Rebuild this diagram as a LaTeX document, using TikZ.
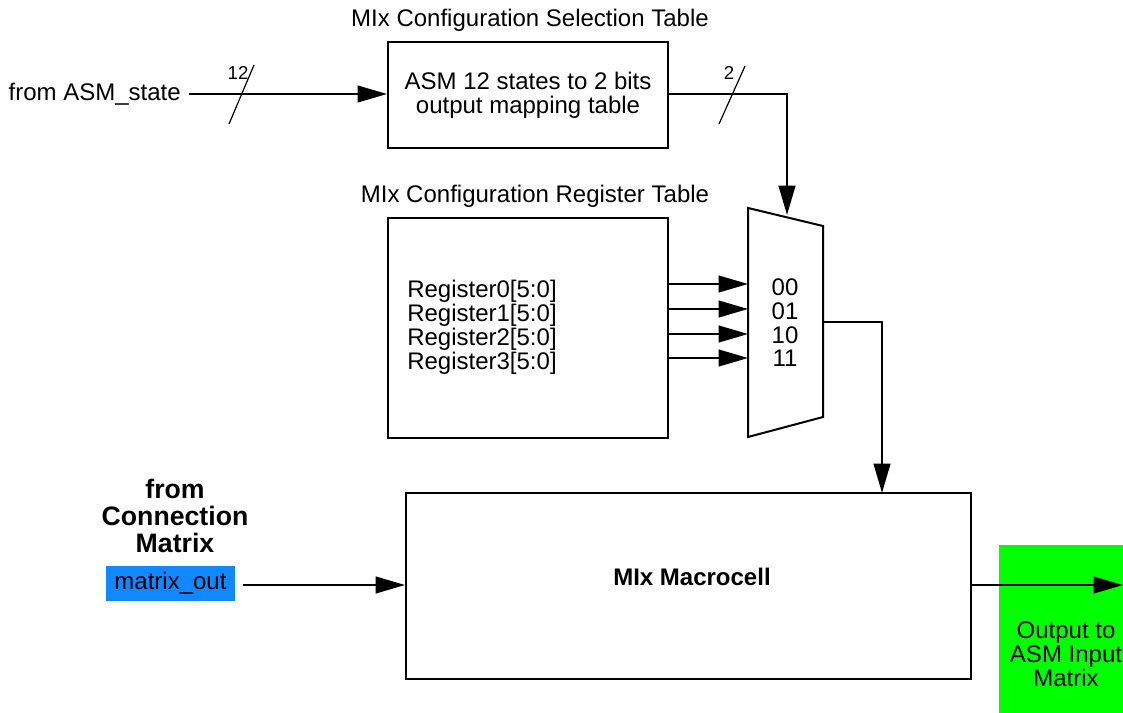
\documentclass[tikz,border=0pt]{standalone}
\usepackage{fontspec}
\setmainfont{Liberation Sans}
\usetikzlibrary{arrows.meta,calc}
\definecolor{bluebox}{RGB}{17,136,255}
\definecolor{greenbox}{RGB}{0,255,0}
\tikzset{
  box/.style={draw,line width=1.5pt,inner sep=0pt},
  wire/.style={line width=1.5pt},
  arr/.style={line width=1.5pt,-{Triangle[length=22pt,width=12.5pt]}},
  slash/.style={line width=0.9pt},
  lbl/.style={font=\fontsize{18}{18}\selectfont,inner sep=0pt},
  small/.style={font=\fontsize{14}{14}\selectfont,inner sep=0pt},
}
\begin{document}
\begin{tikzpicture}[x=0.75pt,y=-0.75pt]
\useasboundingbox (0,0) rectangle (1123,713);
% boxes
\node[box,minimum width=210pt,minimum height=79.5pt,align=center,font=\fontsize{18}{18}\selectfont] (sel) at (528,95.5) {ASM 12 states to 2 bits\\output mapping table};
\node[lbl] (seltitle) at (530,20) {MIx Configuration Selection Table};
\node[box,minimum width=210pt,minimum height=165pt] (reg) at (528,328) {};
\node[lbl] (regtitle) at (535,196) {MIx Configuration Register Table};
\node[lbl,anchor=west] (r0) at (407,291) {Register0[5:0]};
\node[lbl,anchor=west] (r1) at (407,315) {Register1[5:0]};
\node[lbl,anchor=west] (r2) at (407,339) {Register2[5:0]};
\node[lbl,anchor=west] (r3) at (407,363) {Register3[5:0]};
% mux
\coordinate (m1) at (748,208);
\coordinate (m2) at (823,226);
\coordinate (m3) at (823,417);
\coordinate (m4) at (748,437);
\draw[wire,line join=miter] (m1) -- (m2) -- (m3) -- (m4) -- cycle;
\coordinate (muxtop) at (787,215);
\coordinate (in0) at (748,284);
\coordinate (in1) at (748,309);
\coordinate (in2) at (748,334);
\coordinate (in3) at (748,358);
\node[lbl] (s0) at (785,287) {00};
\node[lbl] (s1) at (785,311) {01};
\node[lbl] (s2) at (785,335) {10};
\node[lbl] (s3) at (785,358) {11};
\coordinate (muxout) at (823,322);
% macrocell
\node[box,minimum width=423.75pt,minimum height=139.5pt] (mix) at (688.5,586) {};
\node[font=\bfseries\fontsize{18}{18}\selectfont,inner sep=0pt] (mixlbl) at (692,577) {MIx Macrocell};
\coordinate (mixin) at (882,493);
% left inputs
\node[lbl,anchor=east,inner sep=0pt] (fromasm) at (181,94) {from ASM\_state};
\node[align=center,font=\bfseries\fontsize{20}{20}\selectfont,inner sep=0pt] (fromcm) at (175,516) {from\\Connection\\Matrix};
\node[fill=bluebox,minimum width=96.75pt,minimum height=26.25pt,inner sep=0pt,font=\fontsize{18}{18}\selectfont] (mout) at (170.5,583.5) {\raisebox{-1pt}{matrix\_out}};
% output
\node[fill=greenbox,minimum width=94.5pt,minimum height=126pt,inner sep=0pt] (outbox) at (1062,629) {};
\node[align=center,font=\fontsize{18}{18}\selectfont,inner sep=0pt] (outlbl) at (1066,654) {Output to\\ASM Input\\Matrix};
\coordinate (outend) at (1123,585);
% connectors
\coordinate (asmstart) at (189,94);
\draw[arr] (asmstart) -- (asmstart -| sel.west);
\draw[slash] (229,124) -- (254,65);
\node[small] (w12) at (238,73) {12};
\draw[arr] (sel.east |- 0,94) -| (muxtop);
\draw[slash] (719,124) -- (745,66);
\node[small] (w2) at (729,73) {2};
\draw[arr] (in0 -| reg.east) -- (in0);
\draw[arr] (in1 -| reg.east) -- (in1);
\draw[arr] (in2 -| reg.east) -- (in2);
\draw[arr] (in3 -| reg.east) -- (in3);
\draw[arr] (muxout) -| (mixin);
\coordinate (moutstart) at (243,585);
\draw[arr] (moutstart) -- (moutstart -| mix.west);
\draw[arr] (mix.east |- outend) -- (outend);
\end{tikzpicture}
\end{document}
